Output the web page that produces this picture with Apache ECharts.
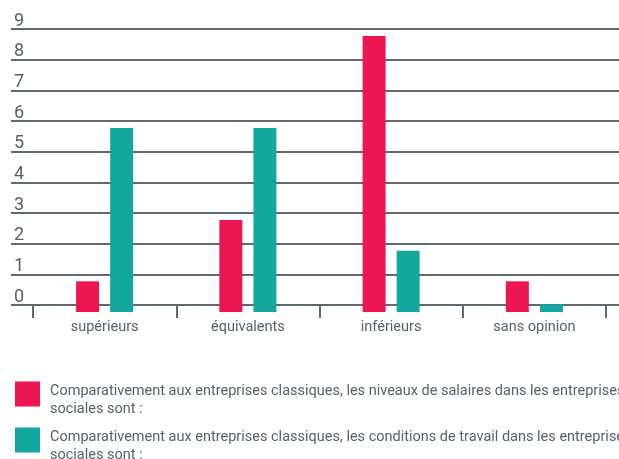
<!DOCTYPE html>
<html>
<head>
<meta charset="utf-8">
<script src="https://cdn.jsdelivr.net/npm/echarts@6/dist/echarts.min.js"></script>
<style>html,body{margin:0;padding:0;background:#fff}#c{width:619px;height:459px}</style>
</head>
<body>
<div id="c"></div>
<script>
const categories = ['supérieurs', 'équivalents', 'inférieurs', 'sans opinion'];
const salaires = [1, 3, 9, 1];
const conditions = [6, 6, 2, 0.25];
const seriesNames = [
  'Comparativement aux entreprises classiques, les niveaux de salaires dans les entreprises sociales sont :',
  'Comparativement aux entreprises classiques, les conditions de travail dans les entreprises sociales sont :'
];
const yMin = 0, yMax = 9, yStep = 1;

const textColor = '#56626b';
const lineColor = '#5e6a72';
const pink = '#ED1651';
const teal = '#12A89D';
const font = 'Roboto';

function legendFor(i, top) {
  return {
    orient: 'vertical', left: 15, top: top, padding: 0,
    itemWidth: 25, itemHeight: 25, itemGap: 0,
    icon: 'rect',
    formatter: n => {
      const parts = n.split(' sociales');
      return '{s| }\n{t|' + parts[0] + '}\n{t|sociales' + parts[1] + '}';
    },
    textStyle: {
      color: textColor, fontSize: 14.5, fontFamily: font,
      rich: {
        s: {fontSize: 6, lineHeight: 12},
        t: {color: textColor, fontSize: 14.5, lineHeight: 18, fontFamily: font, padding: [0, 0, 0, 5]}
      }
    },
    data: [seriesNames[i]]
  };
}

const chart = echarts.init(document.getElementById('c'), null, {renderer: 'canvas'});
chart.setOption({
  animation: false,
  textStyle: {fontFamily: font},
  grid: [
    {left: 11, right: 0, top: 29, height: 276},
    {left: 33, right: 13, top: 36, height: 276}
  ],
  xAxis: [
    {gridIndex: 0, type: 'category', data: categories, show: false},
    {
      gridIndex: 1, type: 'category', data: categories, offset: -7,
      axisLine: {show: false},
      axisTick: {show: true, length: 13, lineStyle: {color: lineColor, width: 2}},
      axisLabel: {color: textColor, fontSize: 14.5, margin: 15, fontFamily: font}
    }
  ],
  yAxis: [
    {
      gridIndex: 0, type: 'value', min: yMin, max: yMax, interval: yStep,
      axisLine: {show: false}, axisTick: {show: false},
      splitLine: {show: true, lineStyle: {color: lineColor, width: 2}},
      axisLabel: {inside: true, margin: 3, verticalAlign: 'bottom', color: textColor, fontSize: 18, lineHeight: 16, fontFamily: font}
    },
    {gridIndex: 1, type: 'value', min: yMin, max: yMax, show: false}
  ],
  legend: [legendFor(0, 373), legendFor(1, 419)],
  series: [
    {name: seriesNames[0], type: 'bar', xAxisIndex: 1, yAxisIndex: 1, data: salaires, barWidth: 23, barGap: '48%', itemStyle: {color: pink}},
    {name: seriesNames[1], type: 'bar', xAxisIndex: 1, yAxisIndex: 1, data: conditions, barWidth: 23, barGap: '48%', itemStyle: {color: teal}}
  ]
});
</script>
</body>
</html>
